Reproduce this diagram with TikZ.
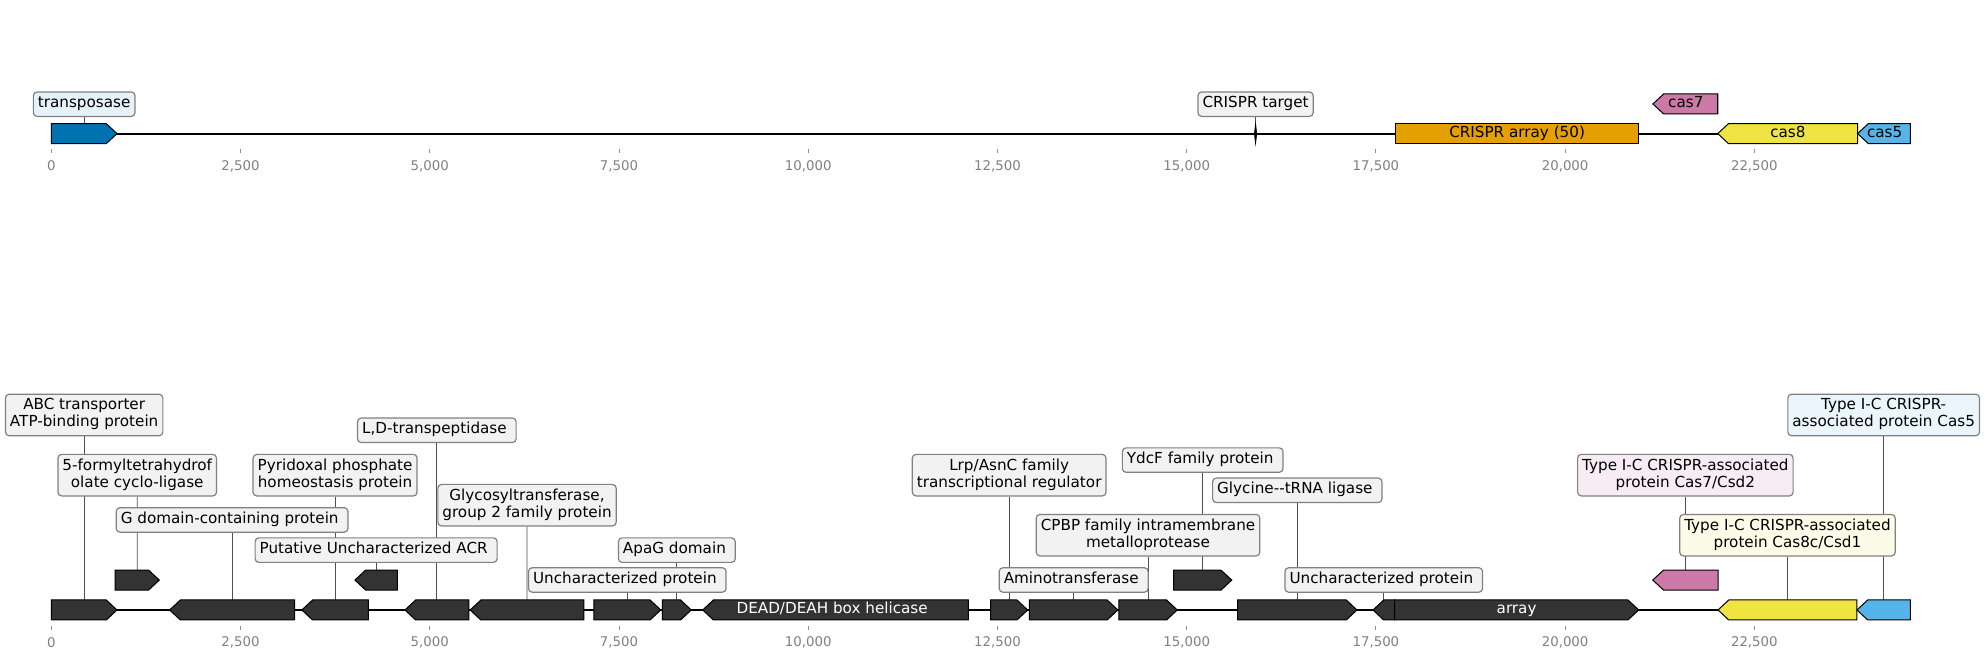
\documentclass[tikz,border=0pt]{standalone}
\usepackage{fontspec}
\newfontfamily\dvs{DejaVu Sans}
\usetikzlibrary{calc}
\definecolor{fdark}{HTML}{333333}
\definecolor{cblue}{HTML}{0072B2}
\definecolor{corange}{HTML}{E69F00}
\definecolor{cpink}{HTML}{CC79A7}
\definecolor{cyellow}{HTML}{F0E442}
\definecolor{csky}{HTML}{56B4E9}
\definecolor{lgray}{HTML}{F2F2F2}
\definecolor{lblue}{HTML}{E6F2F9}
\definecolor{lsky}{HTML}{EAF5FC}
\definecolor{lpink}{HTML}{F7ECF3}
\definecolor{lyellow}{HTML}{FCFBE7}
\definecolor{labgray}{HTML}{808080}
\definecolor{conngray}{HTML}{505050}
\definecolor{tickgray}{HTML}{909090}
\definecolor{ticktext}{HTML}{808080}
\pgfdeclarelayer{back}
\pgfsetlayers{back,main}
\newcommand\tsp{\hspace*{0.32em}}
% right-pointing gene: name, start, tip, ycenter, fill
\newcommand\geneR[5]{%
  \draw[feat,fill=#5] (#2,#4-7.9) -- (#3-8.5,#4-7.9) -- (#3,#4) -- (#3-8.5,#4+7.9) -- (#2,#4+7.9) -- cycle;
  \coordinate (#1) at ({(#2+#3)/2},{#4-7.9});}
% left-pointing gene: name, tip, end, ycenter, fill
\newcommand\geneL[5]{%
  \draw[feat,fill=#5] (#3,#4-7.9) -- (#2+8.5,#4-7.9) -- (#2,#4) -- (#2+8.5,#4+7.9) -- (#3,#4+7.9) -- cycle;
  \coordinate (#1) at ({(#2+#3)/2},{#4-7.9});}
\begin{document}
\begin{tikzpicture}[x=0.75pt,y=-0.75pt,
  feat/.style={draw=black, line width=0.6pt, line join=miter},
  lab/.style={draw=labgray, line width=0.7pt, rounded corners=2.2pt, inner xsep=2.7pt, inner ysep=2.2pt, align=center, font=\dvs\fontsize{9}{10.1}\selectfont, fill=lgray},
  ftxt/.style={font=\dvs\fontsize{9}{10.1}\selectfont, inner sep=0pt, text height=6.8pt, text depth=2.1pt},
  conn/.style={draw=conngray, line width=0.55pt},
  backbone/.style={line width=1.1pt, draw=black},
  tickmark/.style={draw=tickgray, line width=0.5pt},
  ticklab/.style={font=\dvs\fontsize{7.9}{9}\selectfont, text=ticktext, inner sep=0pt}]
\useasboundingbox (0,0) rectangle (1568,520);

% ---------------- axes (positions in kbp) ----------------
\foreach \u/\t [count=\i] in {0/0,2.5/{2,500},5/{5,000},7.5/{7,500},10/{10,000},12.5/{12,500},15/{15,000},17.5/{17,500},20/{20,000},22.5/{22,500}}{
  \draw[tickmark] ({40.5+59.76*\u},117.6) -- ({40.5+59.76*\u},120.8);
  \node[ticklab] (ta\i) at ({40.5+59.76*\u},131) {\t};
  \draw[tickmark] ({40.5+59.76*\u},494.2) -- ({40.5+59.76*\u},497.4);
  \node[ticklab] (tb\i) at ({40.5+59.76*\u},507.1) {\t};
}

% ---------------- backbones ----------------
\coordinate (ta) at (40.5,105.5);
\coordinate (tz) at (1508.3,105.5);
\coordinate (ba) at (40.5,481.6);
\coordinate (bz) at (1508.3,481.6);
\begin{pgfonlayer}{back}
\draw[backbone] (ta) -- (tz);
\draw[backbone] (ba) -- (bz);
\end{pgfonlayer}

% ---------------- top track ----------------
\geneR{T1}{40.5}{92.4}{105.5}{cblue}
\draw[black, fill=black, line width=0.4pt] (991.3,97.5) -- (992.2,105.5) -- (991.3,113.5) -- (990.4,105.5) -- cycle;
\coordinate (T2) at (991.3,97.5);
\draw[feat,fill=corange] (1101.6,97.6) rectangle (1294,113.4);
\node[ftxt] (tT3) at (1197.8,105.5) {CRISPR array (50)};
\geneL{T4}{1305}{1356.2}{82.1}{cpink}
\node[ftxt] (tT4) at (1331,82.1) {cas7};
\geneL{T5}{1356.2}{1466.6}{105.5}{cyellow}
\node[ftxt] (tT5) at (1411.6,105.5) {cas8};
\geneL{T6}{1466.6}{1508.3}{105.5}{csky}
\node[ftxt] (tT6) at (1488,105.5) {cas5};

\node[lab, fill=lblue] (LT1) at (66.45,82.25) {\strut transposase};
\node[lab] (LT2) at (991.3,82.25) {\strut CRISPR target};

% ---------------- bottom track ----------------
\geneR{F1}{40.5}{92.4}{481.6}{fdark}
\geneR{F2}{90.9}{125.8}{458}{fdark}
\geneL{F3}{133.9}{232.6}{481.6}{fdark}
\geneL{F4}{238.3}{290.8}{481.6}{fdark}
\geneL{F5}{280.2}{313.7}{458}{fdark}
\geneL{F6}{319.7}{370.1}{481.6}{fdark}
\geneL{F7}{371.2}{461}{481.6}{fdark}
\geneR{F8}{468.8}{521.7}{481.6}{fdark}
\geneR{F9}{523}{545.8}{481.6}{fdark}
\geneL{F10}{554.8}{764.5}{481.6}{fdark}
\geneR{F11}{782.1}{811.4}{481.6}{fdark}
\geneR{F12}{812.8}{882.6}{481.6}{fdark}
\geneR{F13}{883.3}{929.5}{481.6}{fdark}
\geneR{F14}{926.6}{972.5}{458}{fdark}
\geneR{F15}{977.1}{1071.4}{481.6}{fdark}
\geneL{F16}{1084}{1101}{481.6}{fdark}
\geneR{F17}{1101}{1293.8}{481.6}{fdark}
\geneL{F18}{1304.9}{1356.4}{458}{cpink}
\geneL{F19}{1356.4}{1466.1}{481.6}{cyellow}
\geneL{F20}{1466.1}{1508.3}{481.6}{csky}
\node[ftxt, text=white] (tF10) at (657,481.6) {DEAD/DEAH box helicase};
\node[ftxt, text=white] (tF17) at (1197.4,481.6) {array};

\node[lab] (L1) at (66.45,327.65) {\strut ABC transporter\\\strut ATP-binding protein};
\node[lab] (L2) at (108.35,375.15) {\strut 5-formyltetrahydrof\\\strut olate cyclo-ligase};
\node[lab] (L3) at (183.25,410.5) {\strut G domain-containing protein\tsp};
\node[lab] (L4) at (264.55,375.15) {\strut Pyridoxal phosphate\\\strut homeostasis protein};
\node[lab] (L5) at (296.95,434.35) {\strut Putative Uncharacterized ACR\tsp};
\node[lab] (L6) at (344.9,339.75) {\strut L,D-transpeptidase\tsp};
\node[lab] (L7) at (416.1,398.85) {\strut Glycosyltransferase,\\\strut group 2 family protein};
\node[lab] (L8) at (495.25,457.9) {\strut Uncharacterized protein\tsp};
\node[lab] (L9) at (534.4,434.35) {\strut ApaG domain\tsp};
\node[lab] (L11) at (796.75,375.15) {\strut Lrp/AsnC family\\\strut transcriptional regulator};
\node[lab] (L12) at (847.7,457.9) {\strut Aminotransferase\tsp};
\node[lab] (L13) at (906.4,422.55) {\strut CPBP family intramembrane\\\strut metalloprotease};
\node[lab] (L14) at (949.55,363.25) {\strut YdcF family protein\tsp};
\node[lab] (L15) at (1024.25,387.1) {\strut Glycine--tRNA ligase\tsp};
\node[lab] (L16) at (1092.5,457.9) {\strut Uncharacterized protein\tsp};
\node[lab, fill=lpink] (L18) at (1330.65,375.15) {\strut Type I-C CRISPR-associated\\\strut protein Cas7/Csd2};
\node[lab, fill=lyellow] (L19) at (1411.25,422.55) {\strut Type I-C CRISPR-associated\\\strut protein Cas8c/Csd1};
\node[lab, fill=lsky] (L20) at (1487.2,327.65) {\strut Type I-C CRISPR-\\\strut associated protein Cas5};

% ---------------- connectors ----------------
\begin{pgfonlayer}{back}
\foreach \a/\b in {LT1/T1,LT2/T2,L1/F1,L2/F2,L3/F3,L4/F4,L5/F5,L6/F6,L7/F7,L8/F8,L9/F9,L11/F11,L12/F12,L13/F13,L14/F14,L15/F15,L16/F16,L18/F18,L19/F19,L20/F20}{
  \draw[conn] (\a.south) -- (\b);
}
\end{pgfonlayer}
\end{tikzpicture}
\end{document}
